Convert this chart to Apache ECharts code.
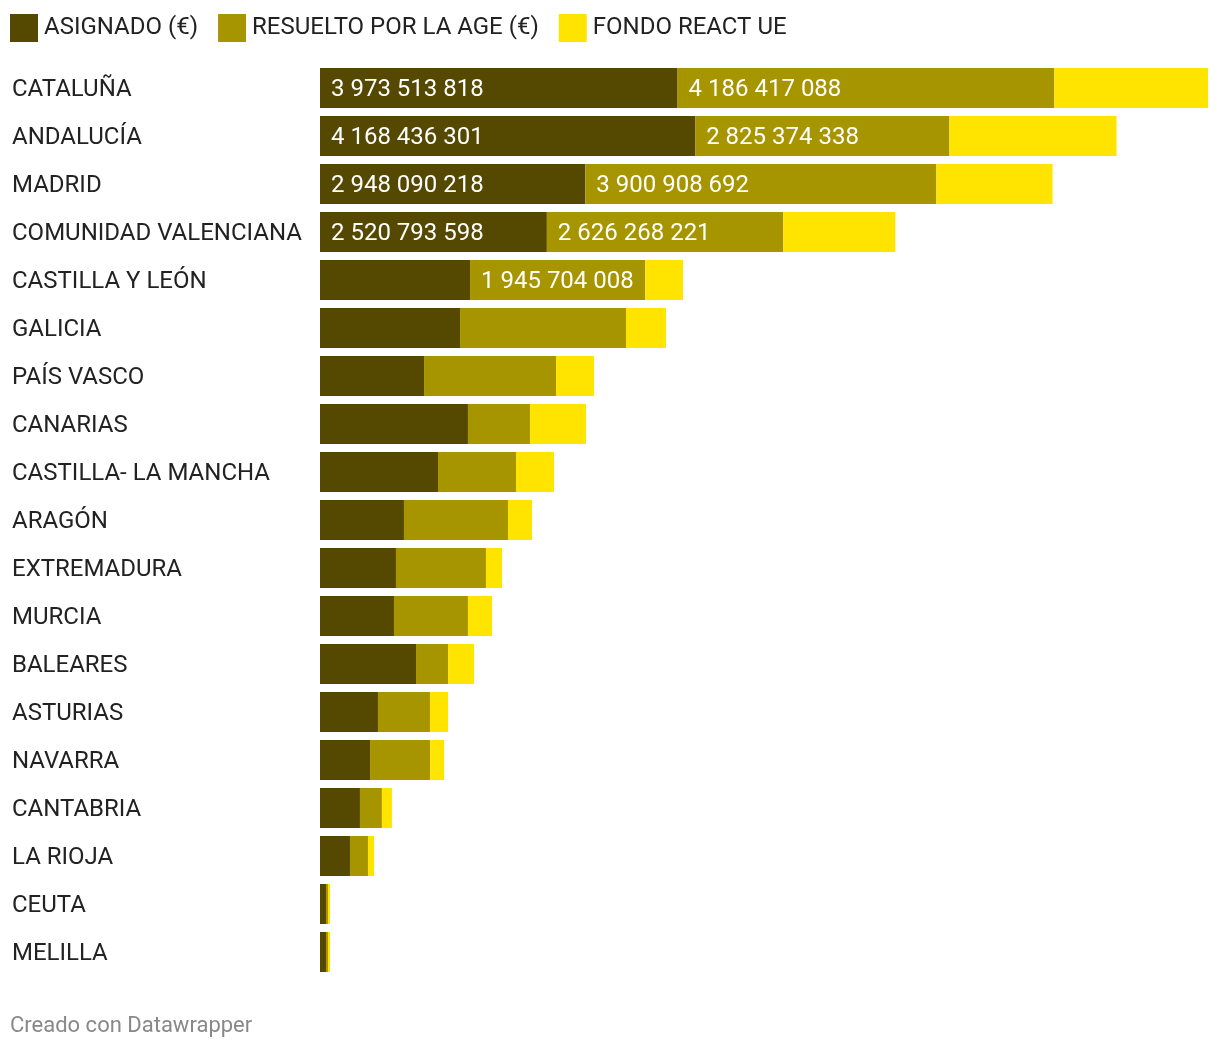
<!DOCTYPE html>
<html>
<head>
<meta charset="utf-8">
<script src="https://cdn.jsdelivr.net/npm/echarts@6/dist/echarts.min.js"></script>
<style>
html,body{margin:0;padding:0;background:#fff;}
#chart{width:1220px;height:1050px;}
</style>
</head>
<body>
<div id="chart"></div>
<script>
const categories = ['CATALUÑA','ANDALUCÍA','MADRID','COMUNIDAD VALENCIANA','CASTILLA Y LEÓN','GALICIA','PAÍS VASCO','CANARIAS','CASTILLA- LA MANCHA','ARAGÓN','EXTREMADURA','MURCIA','BALEARES','ASTURIAS','NAVARRA','CANTABRIA','LA RIOJA','CEUTA','MELILLA'];
const asignado = [3973513818, 4168436301, 2948090218, 2520793598, 1667000000, 1556000000, 1156000000, 1644000000, 1311000000, 933000000, 844000000, 822000000, 1067000000, 644000000, 556000000, 444000000, 333000000, 67000000, 67000000];
const resuelto = [4186417088, 2825374338, 3900908692, 2626268221, 1945704008, 1844000000, 1467000000, 689000000, 867000000, 1156000000, 1000000000, 822000000, 356000000, 578000000, 667000000, 244000000, 200000000, 22000000, 22000000];
const react = [1707000000, 1857000000, 1291000000, 1246000000, 422000000, 444000000, 422000000, 622000000, 422000000, 267000000, 178000000, 267000000, 289000000, 200000000, 156000000, 111000000, 67000000, 22000000, 22000000];
const seriesNames = ['ASIGNADO (€)', 'RESUELTO POR LA AGE (€)', 'FONDO REACT UE'];

const colors = ['#554800', '#a79500', '#ffe400'];
const labelMin = 1900000000;
const fmt = v => String(v).replace(/\B(?=(\d{3})+(?!\d))/g, ' ');
const totals = categories.map((_, i) => asignado[i] + resuelto[i] + react[i]);
const xMax = Math.max(...totals);

const FONT = 'Roboto';
const chart = echarts.init(document.getElementById('chart'), null, {renderer: 'canvas'});

function mkSeries(name, data, color, withLabel) {
  return {
    name: name,
    type: 'bar',
    stack: 'total',
    data: data,
    barWidth: 40,
    itemStyle: {color: color},
    emphasis: {disabled: true},
    animation: false,
    label: {
      show: withLabel,
      position: 'insideLeft',
      distance: 11,
      offset: [0, 2],
      color: '#ffffff',
      fontFamily: FONT,
      fontSize: 24,
      formatter: p => (p.value >= labelMin ? fmt(p.value) : '')
    }
  };
}

chart.setOption({
  backgroundColor: '#ffffff',
  animation: false,
  textStyle: {fontFamily: FONT},
  legend: {
    left: 5,
    top: 9,
    itemWidth: 28,
    itemHeight: 28,
    itemGap: 20,
    icon: 'rect',
    selectedMode: false,
    textStyle: {fontFamily: FONT, fontSize: 24, color: '#222222', padding: [4, 0, 0, 1]},
    data: seriesNames
  },
  grid: {left: 320, right: 12, top: 64, bottom: 74, containLabel: false},
  xAxis: {
    type: 'value',
    min: 0,
    max: xMax,
    show: false
  },
  yAxis: {
    type: 'category',
    data: categories,
    inverse: true,
    axisLine: {show: false},
    axisTick: {show: false},
    splitLine: {show: false},
    axisLabel: {
      align: 'left',
      margin: 308,
      formatter: v => '{a|' + v + '}',
      rich: {
        a: {fontFamily: FONT, fontSize: 24, color: '#222222', padding: [4, 0, 0, 0]}
      }
    }
  },
  series: [
    mkSeries(seriesNames[0], asignado, colors[0], true),
    mkSeries(seriesNames[1], resuelto, colors[1], true),
    mkSeries(seriesNames[2], react, colors[2], false)
  ],
  graphic: [{
    type: 'text',
    x: 10,
    y: 1026,
    style: {text: 'Creado con Datawrapper', fill: '#888888', font: '22px Roboto', textVerticalAlign: 'middle'}
  }]
});
</script>
</body>
</html>
